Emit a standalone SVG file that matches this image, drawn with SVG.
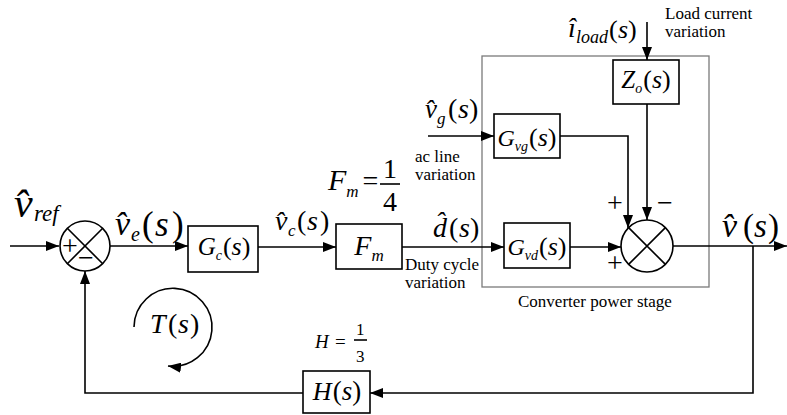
<svg xmlns="http://www.w3.org/2000/svg" width="787" height="415" viewBox="0 0 787 415">
<style>
.ln{stroke:#000;stroke-width:1.6;fill:none}
.box{fill:#fff;stroke:#000;stroke-width:1.6}
.gray{fill:none;stroke:#7a7a7a;stroke-width:1.3}
.m{font-family:'Liberation Serif','Times New Roman',serif;font-style:italic;fill:#000}
.r{font-family:'Liberation Serif','Times New Roman',serif;fill:#000}
.u{font-style:normal}
.i{font-style:italic}
.c{text-anchor:middle}
</style>
<defs>
<marker id="a" markerUnits="userSpaceOnUse" markerWidth="13" markerHeight="10" refX="13" refY="5" orient="auto"><path d="M0,0 L13,5 L0,10 z" fill="#000"/></marker>
</defs>
<rect class="gray" x="482" y="56" width="227" height="231"/>
<g id="connectors">
<path class="ln" d="M10,246 H59" marker-end="url(#a)"/>
<path class="ln" d="M110,246 H188" marker-end="url(#a)"/>
<path class="ln" d="M258,247 H336" marker-end="url(#a)"/>
<path class="ln" d="M402,247 H504" marker-end="url(#a)"/>
<path class="ln" d="M570,247 H621" marker-end="url(#a)"/>
<path class="ln" d="M673,246 H787" marker-end="url(#a)"/>
<path class="ln" d="M753,246 V393 H370" marker-end="url(#a)"/>
<path class="ln" d="M303,393 H85 V271" marker-end="url(#a)"/>
<path class="ln" d="M428,136 H494" marker-end="url(#a)"/>
<path class="ln" d="M560,136 H628 V228" marker-end="url(#a)"/>
<path class="ln" d="M647,22 V60" marker-end="url(#a)"/>
<path class="ln" d="M647,104 V220" marker-end="url(#a)"/>
<path class="ln" d="M134,327 A39,39 0 1 1 168,366" marker-end="url(#a)"/>
</g>
<g id="sum1">
<circle class="box" cx="85" cy="246" r="25"/>
<path class="ln" d="M67.3,228.3 L102.7,263.7 M102.7,228.3 L67.3,263.7"/>
<text class="r c" font-size="28"><tspan x="70" y="255">+</tspan><tspan x="86" y="267">−</tspan></text>
</g>
<g id="sum2">
<circle class="box" cx="647" cy="246" r="26"/>
<path class="ln" d="M628.6,227.6 L665.4,264.4 M665.4,227.6 L628.6,264.4"/>
<text class="r c" font-size="28"><tspan x="615" y="212">+</tspan><tspan x="665" y="212">−</tspan><tspan x="615" y="272">+</tspan></text>
</g>
<g id="Gc">
<rect class="box" x="188" y="226" width="70" height="46"/>
<text class="m c" x="224" y="255" font-size="25">G<tspan dy="5" font-size="14">c</tspan><tspan class="u" dy="-5" dx="1" font-size="26">(</tspan><tspan font-size="26">s</tspan><tspan class="u" font-size="26">)</tspan></text>
</g>
<g id="Fm">
<rect class="box" x="336" y="224" width="66" height="45"/>
<text class="m c" x="369" y="255" font-size="28">F<tspan dy="6" font-size="17">m</tspan></text>
</g>
<g id="Gvd">
<rect class="box" x="504" y="223" width="66" height="45"/>
<text class="m c" x="537" y="255" font-size="24">G<tspan dy="5" font-size="14">vd</tspan><tspan class="u" dy="-5" dx="1" font-size="26">(</tspan><tspan font-size="26">s</tspan><tspan class="u" font-size="26">)</tspan></text>
</g>
<g id="Gvg">
<rect class="box" x="494" y="114" width="66" height="44"/>
<text class="m c" x="527" y="146" font-size="24">G<tspan dy="5" font-size="14">vg</tspan><tspan class="u" dy="-5" dx="1" font-size="26">(</tspan><tspan font-size="26">s</tspan><tspan class="u" font-size="26">)</tspan></text>
</g>
<g id="Zo">
<rect class="box" x="613" y="60" width="66" height="44"/>
<text class="m c" x="646" y="88" font-size="25">Z<tspan dy="5" font-size="14">o</tspan><tspan class="u" dy="-5" dx="1" font-size="26">(</tspan><tspan font-size="26">s</tspan><tspan class="u" font-size="26">)</tspan></text>
</g>
<g id="H">
<rect class="box" x="303" y="371" width="67" height="42"/>
<text class="m c" x="337" y="400" font-size="26">H<tspan class="u" dx="1" font-size="27">(</tspan><tspan font-size="27">s</tspan><tspan class="u" font-size="27">)</tspan></text>
</g>
<g id="labels">
<text class="m" font-size="42"><tspan x="14" y="217">v̂</tspan><tspan x="34" y="221" font-size="23">ref</tspan></text>

<text class="m" font-size="34"><tspan x="115" y="235">v̂</tspan><tspan x="131" y="241" font-size="20">e</tspan><tspan class="u" x="142" y="236" font-size="35">(</tspan><tspan x="155" y="236" font-size="35">s</tspan><tspan class="u" x="172" y="236" font-size="35">)</tspan></text>

<text class="m" font-size="28"><tspan x="275" y="230">v̂</tspan><tspan x="288" y="236" font-size="17">c</tspan><tspan class="u" x="297" y="230">(</tspan><tspan x="307" y="230">s</tspan><tspan class="u" x="320" y="230">)</tspan></text>

<text class="r" font-size="28"><tspan class="i" x="328" y="190" font-size="30">F</tspan><tspan class="i" dy="7" font-size="17">m</tspan><tspan dx="4" dy="-7">=</tspan><tspan x="383" y="178">1</tspan><tspan x="383" y="211">4</tspan></text>
<path class="ln" d="M380,184 H400"/>

<text class="m" font-size="28"><tspan x="433" y="237">d̂</tspan><tspan class="u" x="449" y="237">(</tspan><tspan x="459" y="237">s</tspan><tspan class="u" x="470" y="237">)</tspan></text>

<text class="r" font-size="17"><tspan x="405" y="270">Duty cycle</tspan><tspan x="405" y="288">variation</tspan></text>

<text class="m" font-size="27"><tspan x="425" y="118">v̂</tspan><tspan x="437" y="124" font-size="17">g</tspan><tspan class="u" x="448" y="118" font-size="28">(</tspan><tspan x="458" y="118" font-size="28">s</tspan><tspan class="u" x="469" y="118" font-size="28">)</tspan></text>
<text class="r" font-size="17"><tspan x="415" y="162">ac line</tspan><tspan x="415" y="180">variation</tspan></text>

<text class="m" font-size="28"><tspan x="568" y="37">î</tspan><tspan x="576" y="43" font-size="18">load</tspan><tspan class="u" x="609" y="38" font-size="26">(</tspan><tspan x="618" y="38" font-size="26">s</tspan><tspan class="u" x="628" y="38" font-size="26">)</tspan></text>
<text class="r" font-size="17"><tspan x="665" y="19">Load current</tspan><tspan x="665" y="37">variation</tspan></text>

<text class="r" x="518" y="307" font-size="17">Converter power stage</text>

<text class="m" font-size="34"><tspan x="722" y="237">v̂</tspan><tspan class="u" x="743" y="237" font-size="33">(</tspan><tspan x="754" y="237" font-size="33">s</tspan><tspan class="u" x="768" y="237" font-size="33">)</tspan></text>

<text class="m" font-size="28"><tspan x="150" y="333">T</tspan><tspan class="u" x="168" y="333">(</tspan><tspan x="178" y="333">s</tspan><tspan class="u" x="190" y="333">)</tspan></text>

<text class="r" font-size="19"><tspan class="i" x="315" y="348">H</tspan><tspan x="335" y="348">=</tspan><tspan x="356" y="335" font-size="17">1</tspan><tspan x="356" y="362" font-size="17">3</tspan></text>
<path class="ln" d="M354,340 H367" stroke-width="1.2"/>
</g>
</svg>
